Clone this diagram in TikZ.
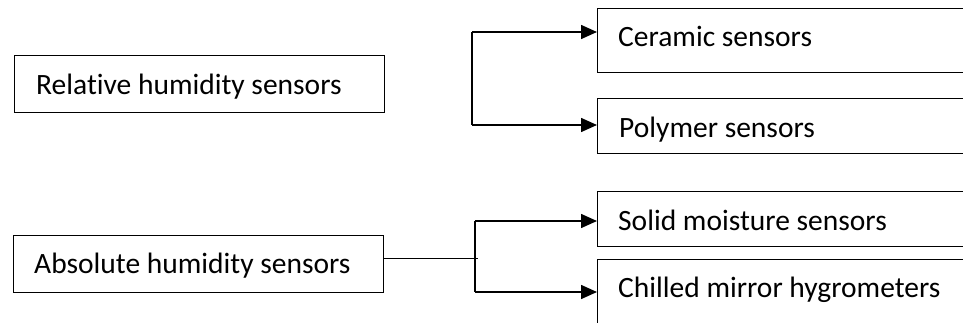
\documentclass[tikz,border=0pt]{standalone}
\usepackage{fontspec}
\setmainfont{Carlito}[Ligatures=NoCommon]
\usetikzlibrary{arrows.meta}
\begin{document}
\begin{tikzpicture}[x=1pt,y=1pt,
  box/.style={draw=black,line width=1pt,rectangle,anchor=north west,inner sep=0pt},
  lbl/.style={anchor=base west,inner sep=0pt,font=\fontsize{29.5}{34}\selectfont},
  conn/.style={draw=black,line width=1.5pt},
  arr/.style={conn,-{Triangle[length=16pt,width=14pt]}}]
\useasboundingbox (0,0) rectangle (963,322);
\clip (0,0) rectangle (963,322);
% boxes
\node[box,minimum width=370pt,minimum height=57pt] (rel) at (14,267) {};
\node[box,minimum width=370pt,minimum height=57pt] (abs) at (13,87) {};
\node[box,minimum width=385pt,minimum height=64pt] (cer) at (597,314) {};
\node[box,minimum width=385pt,minimum height=55pt] (pol) at (597,224) {};
\node[box,minimum width=385pt,minimum height=55pt] (sol) at (597,131) {};
\node[box,minimum width=385pt,minimum height=75pt] (chi) at (597,63) {};
% texts
\node[lbl] (trel) at (36,228) {Relative humidity sensors};
\node[lbl] (tabs) at (34,49) {Absolute humidity sensors};
\node[lbl] (tcer) at (618,275) {Ceramic sensors};
\node[lbl] (tpol) at (619,185) {Polymer sensors};
\node[lbl] (tsol) at (618,92) {Solid moisture sensors};
\node[lbl] (tchi) at (618,25) {Chilled mirror hygrometers};
% top branch
\coordinate (ta) at (472,290);
\coordinate (tb) at (472,197);
\draw[conn] (ta) -- (tb);
\draw[arr] (ta) -- (ta -| cer.west);
\draw[arr] (tb) -- (tb -| pol.west);
% bottom branch
\coordinate (ba) at (475,101);
\coordinate (bb) at (475,30);
\coordinate (jn) at (478,64);
\draw[conn] (ba) -- (bb);
\draw[line width=1pt] (abs.east |- jn) -- (jn);
\draw[arr] (ba) -- (ba -| sol.west);
\draw[arr] (bb) -- (bb -| chi.west);
\end{tikzpicture}
\end{document}
